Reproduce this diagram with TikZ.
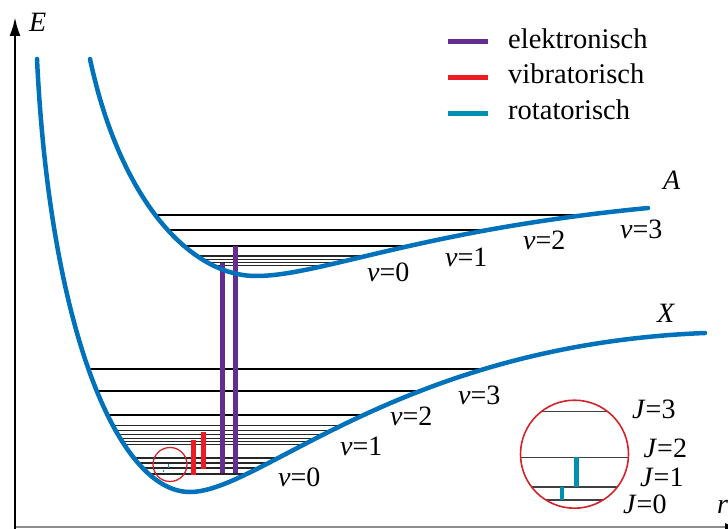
\documentclass[tikz,border=0pt]{standalone}
\usepackage{fontspec}
\setmainfont{Liberation Serif}
\usetikzlibrary{arrows.meta}
\definecolor{pesblue}{RGB}{0,114,188}
\definecolor{elpurple}{RGB}{102,45,145}
\definecolor{vibred}{RGB}{237,28,36}
\definecolor{rotteal}{RGB}{0,145,178}
\definecolor{zoomred}{RGB}{210,35,42}
\tikzset{
  pes/.style={draw=pesblue, line width=4.5pt, line cap=round},
  level/.style={draw=black, line width=2pt},
  finelevel/.style={draw=black!85, line width=1.1pt},
  jlevel/.style={draw=black!75, line width=1.6pt},
  elbar/.style={draw=elpurple, line width=5pt},
  vibbar/.style={draw=vibred, line width=5pt},
  rotbar/.style={draw=rotteal, line width=4.5pt},
  zoomring/.style={draw=zoomred, line width=1.3pt},
  axis/.style={line width=2.6pt, -{Latex[length=19pt,width=11pt]}},
  raxis/.style={draw=black!45, line width=1.3pt, -{Latex[length=12pt,width=8pt,color=black]}},
  lab/.style={font=\rmfamily\fontsize{28}{32}\selectfont, anchor=base west, inner sep=0pt},
  itlab/.style={lab, font=\rmfamily\fontsize{28}{32}\selectfont\itshape},
  legtext/.style={font=\rmfamily\fontsize{28.5}{33}\selectfont, anchor=base west, inner sep=0pt}
}
% potential curves (pixel grid, y downwards)
\def\wellX{(37,59) .. controls (50,330) and (118,492) .. (190,492) .. controls (260,492) and (400,345) .. (705,333)}
\def\wellA{(90,59) .. controls (120,200) and (190,276) .. (256,276) .. controls (320,276) and (420,230) .. (648,208)}

\begin{document}
\begin{tikzpicture}[x=1pt, y=-1pt]
  \useasboundingbox (0,0) rectangle (728,529);

  % axes
  \draw[raxis] (15,527) -- (737,527);
  \draw[axis] (15,529) -- (15,17);
  \node[itlab] (labE) at (29,32) {E};
  \node[itlab] (labr) at (717,513) {r};

  % vibrational levels
  \begin{scope}
    \clip \wellA -- cycle;
    \foreach \y in {215,230,246}
      \draw[level] (0,\y) -- (728,\y);
    \foreach \y in {256,259.5,262.5,265.5}
      \draw[finelevel] (0,\y) -- (728,\y);
  \end{scope}
  \begin{scope}
    \clip \wellX -- cycle;
    \foreach \y in {369,391,415}
      \draw[level] (0,\y) -- (728,\y);
    \foreach \y in {425.5,430.5,434.5,438.5,441.5,444.5,458,463,468,474}
      \draw[finelevel] (0,\y) -- (728,\y);
  \end{scope}

  % transitions
  \draw[elbar] (222,473) -- (222,263);
  \draw[elbar] (235,473) -- (235,246.5);
  \draw[vibbar] (193,475) -- (193,439.5);
  \draw[vibbar] (203.5,469) -- (203.5,432);
  \draw[rotteal, line width=1.5pt] (168.7,463.5) -- (168.7,468);
  \draw[rotteal, line width=1.5pt] (163.5,470) -- (163.5,472);
  \draw[zoomring] (170,464.5) circle (17);

  % potential curves
  \draw[pes] \wellA;
  \draw[pes] \wellX;
  \node[itlab] (labA) at (663,190) {A};
  \node[itlab] (labX) at (657,322) {X};

  % v labels
  \node[lab] (av0) at (367,281.5) {\textit{v}=0};
  \node[lab] (av1) at (445,266.5) {\textit{v}=1};
  \node[lab] (av2) at (523,250) {\textit{v}=2};
  \node[lab] (av3) at (620,238.5) {\textit{v}=3};
  \node[lab] (xv0) at (278,486) {\textit{v}=0};
  \node[lab] (xv1) at (340,455) {\textit{v}=1};
  \node[lab] (xv2) at (390,425) {\textit{v}=2};
  \node[lab] (xv3) at (458,404) {\textit{v}=3};

  % rotational inset
  \begin{scope}
    \clip (574.5,454.2) circle (54);
    \foreach \y in {411.5,457.3,486.7,500}
      \draw[jlevel] (500,\y) -- (650,\y);
  \end{scope}
  \draw[rotbar] (576.7,457.3) -- (576.7,486.7);
  \draw[rotbar, line width=4pt] (561.7,486.7) -- (561.7,500);
  \draw[zoomring, line width=1.6pt] (574.5,454.2) circle (54);
  \node[lab] (j3) at (632,418.3) {\textit{J}=3};
  \node[lab] (j2) at (643.5,457.3) {\textit{J}=2};
  \node[lab] (j1) at (640,486.7) {\textit{J}=1};
  \node[lab] (j0) at (623,513.3) {\textit{J}=0};

  % legend
  \draw[elbar, line width=4.5pt] (448,41.7) -- (488,41.7);
  \draw[vibbar, line width=4.5pt] (448,77.3) -- (488,77.3);
  \draw[rotbar] (448,113.3) -- (488,113.3);
  \node[legtext] (legel) at (508,48.3) {elektronisch};
  \node[legtext] (legvib) at (508,84) {vibratorisch};
  \node[legtext] (legrot) at (508,120) {rotatorisch};
\end{tikzpicture}
\end{document}
